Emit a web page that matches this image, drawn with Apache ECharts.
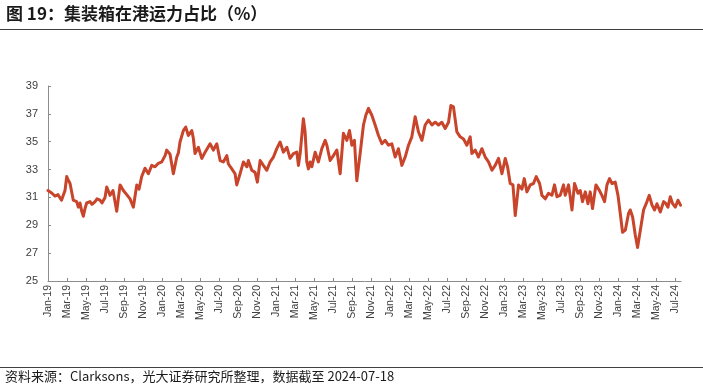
<!DOCTYPE html>
<html>
<head>
<meta charset="utf-8">
<script src="https://cdn.jsdelivr.net/npm/echarts@6/dist/echarts.min.js"></script>
<style>
html,body{margin:0;padding:0;background:#fff;}
#c{width:703px;height:390px;}
</style>
</head>
<body>
<div id="c"></div>
<script>
// months since Jan-2019
var monthIndex = [0.0,0.42,0.74,1.05,1.42,1.79,1.97,2.1,2.32,2.66,3.02,3.19,3.37,3.55,3.72,3.89,4.07,4.42,4.63,4.95,5.16,5.47,5.68,6.0,6.18,6.53,6.84,7.23,7.58,7.93,8.28,8.63,8.98,9.34,9.58,9.86,10.21,10.56,10.92,11.26,11.61,11.97,12.32,12.49,12.84,13.19,13.37,13.55,13.72,13.89,14.24,14.49,14.77,15.13,15.29,15.47,15.82,16.18,16.53,17.05,17.4,17.76,18.11,18.45,18.81,18.98,19.34,19.68,19.86,20.21,20.56,20.92,21.08,21.44,21.79,22.03,22.32,22.66,23.02,23.37,23.72,24.07,24.42,24.77,25.13,25.47,25.82,26.18,26.35,26.53,26.87,27.05,27.23,27.4,27.58,27.76,28.11,28.45,28.81,29.16,29.34,29.68,30.03,30.39,30.74,31.08,31.44,31.72,31.97,32.24,32.49,32.84,33.19,33.44,33.72,34.07,34.42,34.77,35.13,35.47,35.82,36.18,36.53,36.87,37.23,37.58,37.93,38.28,38.63,38.98,39.34,39.68,40.03,40.39,40.74,41.08,41.44,41.79,42.14,42.39,42.66,43.02,43.37,43.72,44.07,44.42,44.6,44.95,45.29,45.65,46.0,46.35,46.71,47.05,47.4,47.76,48.11,48.35,48.63,48.92,49.16,49.51,49.86,50.11,50.39,50.74,51.08,51.37,51.72,51.97,52.32,52.66,53.02,53.29,53.55,53.89,54.24,54.42,54.77,55.13,55.4,55.76,56.0,56.24,56.53,56.81,57.05,57.29,57.65,57.93,58.28,58.56,58.81,59.08,59.34,59.68,59.97,60.21,60.45,60.74,61.08,61.26,61.51,61.79,62.03,62.32,62.66,63.02,63.26,63.55,63.82,64.07,64.42,64.77,65.02,65.23,65.47,65.72,66.0,66.28,66.55];
// 在港运力占比 (%)
var shareValues = [31.5,31.3,31.1,31.2,30.8,31.5,32.5,32.3,32.0,30.8,30.7,30.3,30.6,30.0,29.65,30.2,30.6,30.7,30.5,30.7,30.9,30.8,30.6,31.0,31.75,31.15,31.5,30.0,31.9,31.5,31.2,30.9,30.3,31.9,31.6,32.5,33.1,32.7,33.3,33.2,33.45,33.55,34.0,34.4,34.1,32.7,32.6,33.9,34.2,34.98,35.8,36.05,35.45,35.8,35.25,34.15,34.6,33.8,34.25,34.85,34.4,34.85,33.65,33.55,34.0,33.4,33.05,32.7,31.9,32.7,33.55,33.2,33.65,32.95,32.8,32.1,33.65,33.3,32.95,33.55,33.9,34.5,34.98,34.25,34.6,33.8,34.15,34.25,33.3,34.15,36.65,35.7,33.55,33.05,33.55,33.2,34.25,33.55,34.5,35.1,34.75,33.65,34.0,34.4,32.7,35.6,35.1,35.8,34.75,35.1,32.2,34.15,36.2,36.9,37.4,36.9,36.2,35.45,34.85,35.1,34.75,34.85,33.9,34.5,33.3,33.9,34.75,35.35,36.8,35.7,35.1,36.2,36.55,36.2,36.4,36.2,36.4,35.95,36.4,37.6,37.5,35.7,35.35,35.2,34.75,35.35,34.15,34.4,33.9,34.5,33.9,33.55,32.95,33.3,33.8,32.7,33.8,33.2,32.0,31.9,29.7,31.9,31.6,32.35,31.4,31.9,32.0,32.5,32.0,31.15,30.9,31.3,31.15,31.9,31.05,31.15,31.9,31.15,31.9,30.1,32.0,31.3,31.5,30.7,31.4,30.55,31.4,30.2,31.9,31.6,31.15,30.7,31.9,32.35,32.0,32.1,31.15,29.85,28.5,28.65,29.85,30.1,29.6,28.3,27.4,28.65,30.1,30.7,31.15,30.45,30.1,30.55,29.95,30.7,30.55,30.3,31.05,30.55,30.3,30.8,30.45];
var tickLabels = ['Jan-19','Mar-19','May-19','Jul-19','Sep-19','Nov-19','Jan-20','Mar-20','May-20','Jul-20','Sep-20','Nov-20','Jan-21','Mar-21','May-21','Jul-21','Sep-21','Nov-21','Jan-22','Mar-22','May-22','Jul-22','Sep-22','Nov-22','Jan-23','Mar-23','May-23','Jul-23','Sep-23','Nov-23','Jan-24','Mar-24','May-24','Jul-24'];
var yTicks = [25,27,29,31,33,35,37,39];

var seriesData = monthIndex.map(function(m,i){return [m, shareValues[i]];});
var tickPos = tickLabels.map(function(_,i){return i*2;});

var chart = echarts.init(document.getElementById('c'), null, {renderer:'canvas'});
chart.setOption({
  animation:false,
  backgroundColor:'#ffffff',
  grid:{left:48,right:22,top:86,bottom:109,containLabel:false},
  graphic:[
    {type:'text',left:6,top:5,style:{text:'图 19：集装箱在港运力占比（%）',fontSize:17,fontWeight:'bold',fontFamily:'Noto Sans CJK SC',fill:'#1a1a1a'}},
    {type:'line',shape:{x1:0,y1:29.5,x2:703,y2:29.5},style:{stroke:'#404040',lineWidth:1.2}},
    {type:'line',shape:{x1:0,y1:367.5,x2:703,y2:367.5},style:{stroke:'#404040',lineWidth:1.2}},
    {type:'text',left:5,top:370,style:{text:'资料来源：Clarksons，光大证券研究所整理，数据截至 2024-07-18',fontSize:13,fontFamily:'Noto Sans CJK SC',fill:'#1a1a1a'}}
  ],
  xAxis:{
    type:'value',min:0,max:66.6,
    axisLine:{show:true,lineStyle:{color:'#8c8c8c',width:1}},
    axisTick:{show:true,inside:true,length:3,customValues:tickPos,lineStyle:{color:'#8c8c8c'}},
    axisLabel:{show:true,rotate:90,margin:4,customValues:tickPos,fontSize:10.5,fontFamily:'Liberation Sans',color:'#404040',
      formatter:function(v){var i=Math.round(v/2);return tickLabels[i]||'';}},
    splitLine:{show:false}
  },
  yAxis:{
    type:'value',min:25,max:39,interval:2,
    axisLine:{show:true,lineStyle:{color:'#8c8c8c',width:1}},
    axisTick:{show:true,inside:true,length:3,lineStyle:{color:'#8c8c8c'}},
    axisLabel:{show:true,margin:10,fontSize:11,fontFamily:'Liberation Sans',color:'#404040',
      formatter:function(v){return yTicks.indexOf(v)>=0?String(v):'';}},
    splitLine:{show:false}
  },
  series:[{
    type:'line',data:seriesData,showSymbol:false,smooth:false,
    lineStyle:{color:'#C8442A',width:3,join:'round',cap:'round'},
    itemStyle:{color:'#C8442A'}
  }]
});
</script>
</body>
</html>
